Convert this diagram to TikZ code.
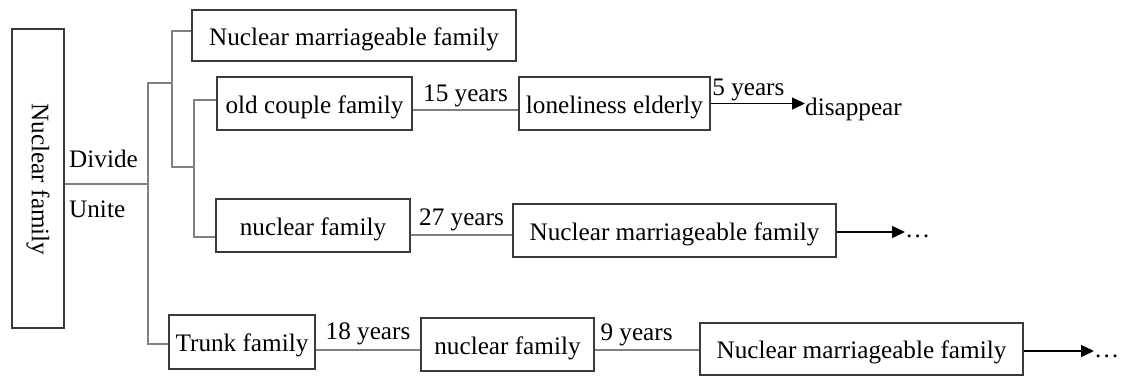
\documentclass[tikz,border=0pt]{standalone}
\usepackage{fontspec}
\setmainfont{Liberation Serif}
\usetikzlibrary{arrows.meta,calc}
\definecolor{boxc}{HTML}{3A3A3A}
\definecolor{connc}{HTML}{808080}
\newcommand\dfont{\fontsize{25.2}{30}\selectfont}
\begin{document}
\begin{tikzpicture}[x=1pt,y=-1pt,
  box/.style={draw=boxc, line width=1.3pt, inner sep=0pt, font=\dfont, fill=white, text height=22pt, text depth=3pt},
  conn/.style={draw=connc, line width=1.8pt},
  arr/.style={draw=black, line width=1.3pt, -{Triangle[length=13pt,width=12pt]}},
  lbl/.style={anchor=base, font=\dfont, inner sep=0pt},
  txt/.style={font=\dfont, inner sep=0pt, anchor=base west}]
\useasboundingbox (0,0) rectangle (1121,376);

% boxes
\node[box, minimum width=52pt, minimum height=299pt] (NF) at (38,178.5) {};
\node[font=\dfont, rotate=-90, inner sep=0pt] (NFt) at ([yshift=-1pt]NF.center) {Nuclear family};
\node[box, minimum width=324pt, minimum height=51pt] (T1) at (354,35.5) {Nuclear marriageable family};
\node[box, minimum width=195pt, minimum height=53pt] (OC) at (314.5,103.5) {old couple family};
\node[box, minimum width=191pt, minimum height=53pt] (LE) at (614.5,103.5) {loneliness elderly};
\node[box, minimum width=194pt, minimum height=53pt] (NF2) at (313,225.5) {nuclear family};
\node[box, minimum width=323pt, minimum height=53pt] (NM2) at (674.5,230.5) {Nuclear marriageable family};
\node[box, minimum width=146pt, minimum height=54pt] (TF) at (242,342) {Trunk family};
\node[box, minimum width=173pt, minimum height=53pt] (NF3) at (507.5,344.5) {nuclear family};
\node[box, minimum width=323pt, minimum height=52pt] (NM3) at (861.5,349) {Nuclear marriageable family};

% free texts
\node[txt] (dis) at (805,115) {disappear};
\node[txt] (dots1) at (905,237) {…};
\node[txt] (dots2) at (1094,357) {…};
\node[txt] (divide) at (69,167) {Divide};
\node[txt] (unite) at (69,217) {Unite};

% tree coordinates
\coordinate (j0) at (148,184);
\coordinate (v1t) at (148,83);
\coordinate (v1b) at (148,344);
\coordinate (v2m) at (172,83);
\coordinate (v2t) at (172,31);
\coordinate (v2b) at (172,167);
\coordinate (v3m) at (194,167);
\coordinate (v3t) at (194,100);
\coordinate (v3b) at (194,237);

\draw[conn] (j0 -| NF.east) -- (j0);
\draw[conn] (v1b -| TF.west) -- (v1b) -- (v1t) -- (v2m);
\draw[conn] (v2t -| T1.west) -- (v2t) -- (v2b) -- (v3m);
\draw[conn] (v3t -| OC.west) -- (v3t) -- (v3b) -- (v3b -| NF2.west);

% timeline connectors
\draw[conn] ([yshift=-6.5pt]OC.east) -- node[lbl, yshift=9pt]{15 years} ([yshift=-6.5pt]LE.west);
\draw[conn] ([yshift=-9.5pt]NF2.east) -- node[lbl, yshift=10pt]{27 years} ([yshift=-4.5pt]NM2.west);
\draw[conn] ([yshift=-8pt]TF.east) -- node[lbl, yshift=11pt]{18 years} ([yshift=-5.5pt]NF3.west);
\draw[conn] ([yshift=-5.5pt]NF3.east) -- node[lbl, yshift=10pt, pos=0.4]{9 years} ([yshift=-1pt]NM3.west);

\draw[arr] (LE.east) -- node[lbl, yshift=8pt, pos=0.4]{5 years} (LE.east -| dis.west);
\draw[arr] ([yshift=-1.5pt]NM2.east) -- ([yshift=-1.5pt]NM2.east -| dots1.west);
\draw[arr] ([yshift=-2pt]NM3.east) -- ([yshift=-2pt]NM3.east -| dots2.west);
\end{tikzpicture}
\end{document}
